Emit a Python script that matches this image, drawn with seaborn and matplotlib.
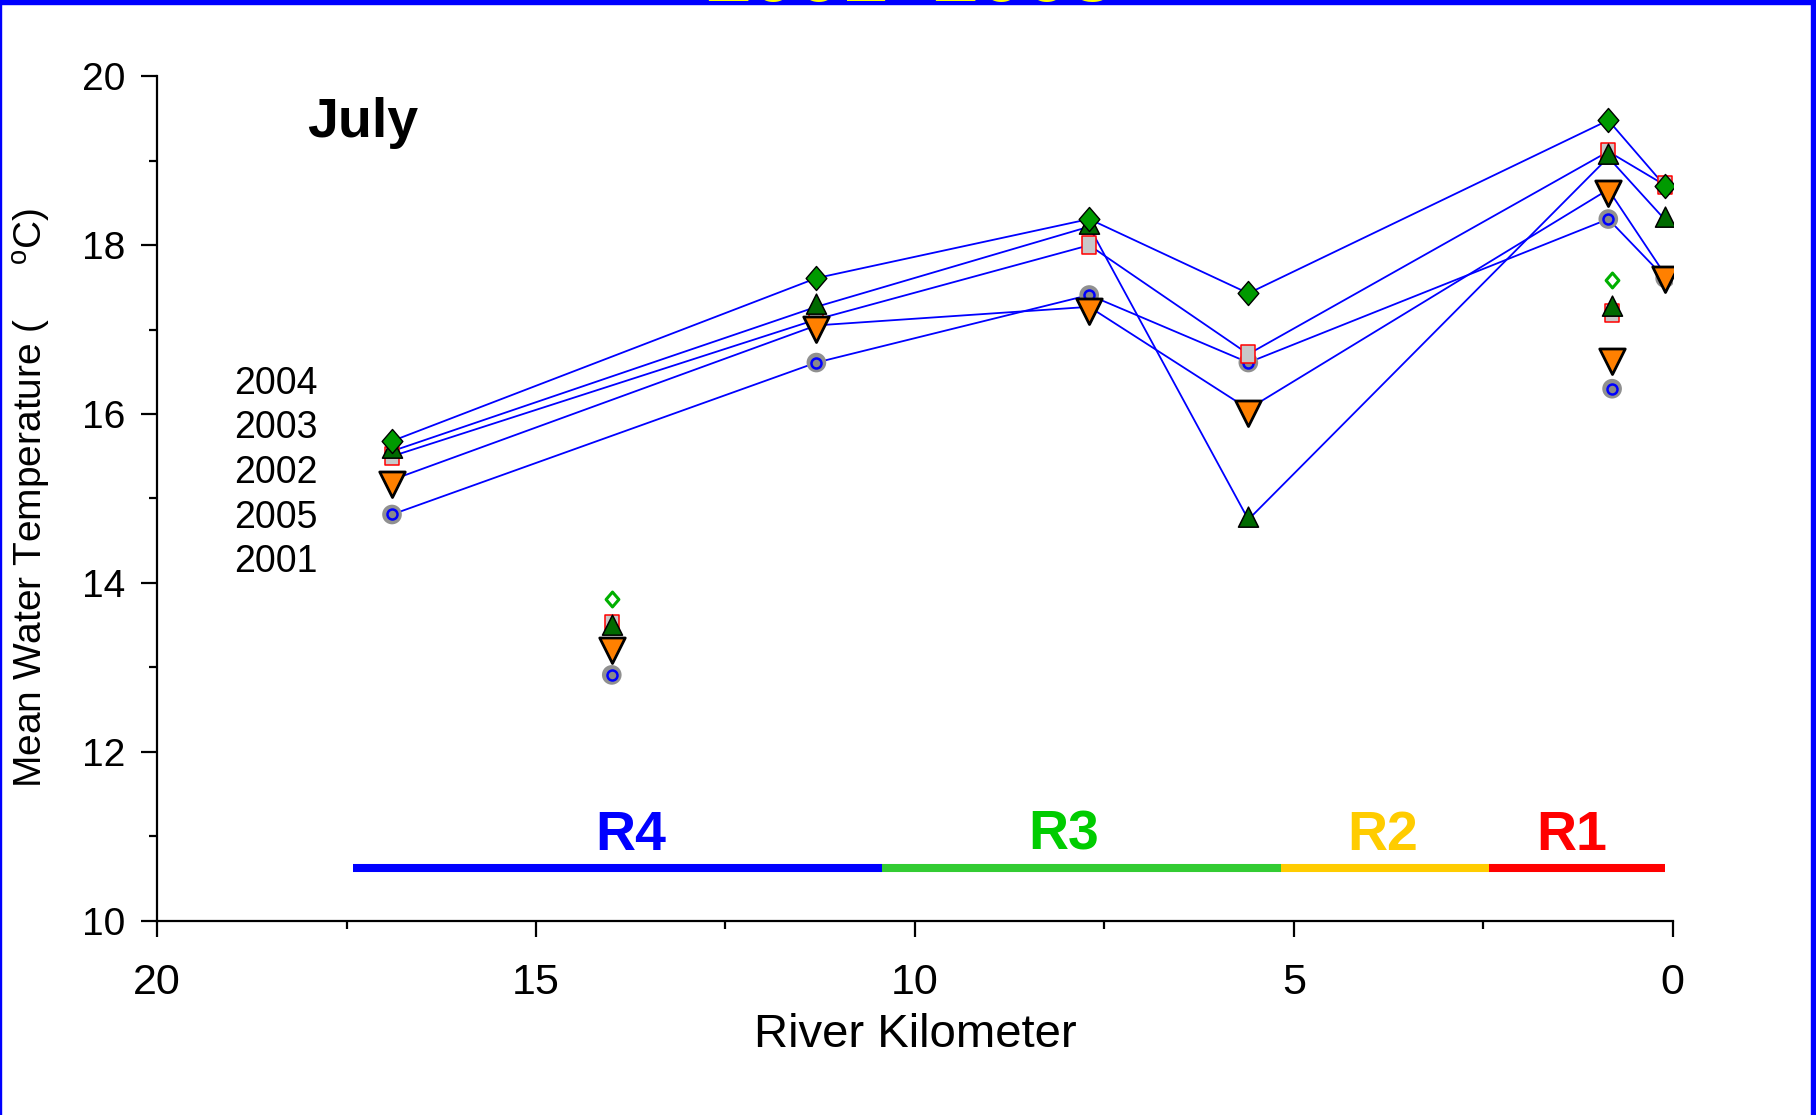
#!/usr/bin/env python3
# -*- coding: utf-8 -*-

import numpy as np
import pandas as pd
import matplotlib
matplotlib.use('Agg')
import matplotlib.pyplot as plt
from matplotlib.patches import Rectangle
from matplotlib.path import Path
from matplotlib.ticker import MultipleLocator
import seaborn as sns

# river km of the main-stem sites and of the two side sites
km_main = [16.9, 11.3, 7.7, 5.6, 0.85, 0.1]
km_side = [14.0, 0.8]

years = ['2004', '2003', '2002', '2005', '2001']

# July mean temperature (deg C) per year, main stem
t2004 = [15.68, 17.61, 18.31, 17.43, 19.48, 18.70]
t2003 = [15.56, 17.27, 18.22, 14.75, 19.04, 18.30]
t2002 = [15.50, 17.12, 18.00, 16.71, 19.11, 18.71]
t2005 = [15.22, 17.05, 17.27, 16.06, 18.66, 17.65]
t2001 = [14.81, 16.61, 17.41, 16.61, 18.31, 17.61]

# side sites (not joined by lines)
s2004 = [13.81, 17.59]
s2003 = [13.47, 17.24]
s2002 = [13.51, 17.20]
s2005 = [13.25, 16.68]
s2001 = [12.91, 16.30]

# river reaches
reach_names = ['R4', 'R3', 'R2', 'R1']
reach_start = [17.42, 10.44, 5.17, 2.43]
reach_end = [10.44, 5.17, 2.43, 0.10]
reach_label_x = [13.75, 8.04, 3.83, 1.33]
reach_colors = ['#0000ff', '#33cc33', '#ffcc00', '#ff0000']
reach_text_colors = ['#0000ff', '#00cc00', '#ffcc00', '#ff0000']

main_vals = {'2004': t2004, '2003': t2003, '2002': t2002, '2005': t2005, '2001': t2001}
side_vals = {'2004': s2004, '2003': s2003, '2002': s2002, '2005': s2005, '2001': s2001}

main_df = pd.concat([pd.DataFrame({'km': km_main, 'temp': main_vals[y], 'year': y}) for y in years])
side_df = pd.concat([pd.DataFrame({'km': km_side, 'temp': side_vals[y], 'year': y}) for y in years])

sns.set_style('ticks')
plt.rcParams['font.family'] = ['Liberation Sans', 'DejaVu Sans']
plt.rcParams['text.color'] = 'black'
plt.rcParams['axes.labelcolor'] = 'black'
plt.rcParams['xtick.color'] = 'black'
plt.rcParams['ytick.color'] = 'black'

fig = plt.figure(figsize=(18.16, 11.15), dpi=100)
ax = fig.add_axes([0.0865, 0.1744, 0.8346, 0.7571])

# blue lines joining the main-stem sites
sns.lineplot(data=main_df, x='km', y='temp', units='year', estimator=None,
             color='#0000ff', lw=1.3, zorder=2, ax=ax)


def closed(verts):
    return Path(verts + [verts[0]], closed=True)


# marker shapes, centred on their centroid
diamond = closed([(0, 1), (0.86, 0), (0, -1), (-0.86, 0)])
tri_up = closed([(-0.75, -0.5), (0.75, -0.5), (0, 1)])
tri_down = closed([(-0.75, 0.5), (0.75, 0.5), (0, -1)])
rect = closed([(-0.84, -1), (0.84, -1), (0.84, 1), (-0.84, 1)])

both = pd.concat([main_df, side_df])

# 2001: grey disc with blue ring
d = both[both['year'] == '2001']
sns.scatterplot(data=d, x='km', y='temp', marker='o', s=200, color='#909090',
                edgecolor='none', linewidth=0, zorder=3, ax=ax)
sns.scatterplot(data=d, x='km', y='temp', marker='o', s=52, color='#8a8a8a',
                edgecolor='#0000ff', linewidth=1.8, zorder=3.1, ax=ax)

# 2002: grey square, red edge
d = both[both['year'] == '2002']
sns.scatterplot(data=d, x='km', y='temp', marker=rect, s=165, color='#c8c8c8',
                edgecolor='#ff0000', linewidth=1.1, zorder=3.2, ax=ax)

# 2005: orange down triangle
d = both[both['year'] == '2005']
sns.scatterplot(data=d, x='km', y='temp', marker=tri_down, s=600, color='#ff8000',
                edgecolor='black', linewidth=2.0, zorder=3.3, ax=ax)

# 2003: dark green triangle
d = both[both['year'] == '2003']
sns.scatterplot(data=d, x='km', y='temp', marker=tri_up, s=370, color='#006a00',
                edgecolor='black', linewidth=1.1, zorder=3.4, ax=ax)

# 2004: green diamond (hollow and small at side sites)
d = main_df[main_df['year'] == '2004']
sns.scatterplot(data=d, x='km', y='temp', marker=diamond, s=300, color='#009a00',
                edgecolor='black', linewidth=1.0, zorder=3.5, ax=ax)
d = side_df[side_df['year'] == '2004']
sns.scatterplot(data=d, x='km', y='temp', marker=diamond, s=115, color='white',
                edgecolor='#00b000', linewidth=2.2, zorder=3.5, ax=ax)

# reach bars and labels
ax.hlines([10.62] * len(reach_names), reach_start, reach_end, colors=reach_colors,
          lw=5.8, capstyle='butt', zorder=2)
for name, x, c in zip(reach_names, reach_label_x, reach_text_colors):
    ax.text(x, 10.84, name, color=c, fontsize=40, fontweight='bold',
            ha='center', va='baseline')

# year labels (legend without symbols)
for i, y in enumerate(years):
    ax.text(18.98, 16.24 - i * 0.528, y, fontsize=27, ha='left', va='baseline')

ax.text(18.02, 19.28, 'July', fontsize=40, fontweight='bold', ha='left', va='baseline')

ax.set_xlim(20, 0)
ax.set_ylim(10, 20)
ax.xaxis.set_major_locator(MultipleLocator(5))
ax.xaxis.set_minor_locator(MultipleLocator(2.5))
ax.yaxis.set_major_locator(MultipleLocator(2))
ax.yaxis.set_minor_locator(MultipleLocator(1))
ax.tick_params(axis='both', which='major', direction='out', length=11.5, width=1.6,
               color='black')
ax.tick_params(axis='both', which='minor', direction='out', length=6, width=1.6,
               color='black')
ax.tick_params(axis='x', which='major', labelsize=31, pad=19, labelcolor='black')
ax.tick_params(axis='y', which='major', labelsize=28, pad=11.5, labelcolor='black')
sns.despine(ax=ax)
for sp in ['left', 'bottom']:
    ax.spines[sp].set_linewidth(1.6)
    ax.spines[sp].set_color('black')

ax.set_xlabel('River Kilometer', fontsize=34, color='black')
ax.set_ylabel('Mean Water Temperature (     $^{\\mathregular{o}}$C)', fontsize=28,
              color='black')
ax.xaxis.set_label_coords(0.5, -0.1095)
ax.yaxis.set_label_coords(-0.0686, 0.5)

# blue frame and the clipped yellow heading at the top edge
fig.patches.extend([
    Rectangle((0, 1 - 3.7 / 1115), 1, 3.7 / 1115, transform=fig.transFigure,
              color='#0000ff', zorder=1),
    Rectangle((0, 0), 1.3 / 1816, 1, transform=fig.transFigure, color='#0000ff', zorder=1),
    Rectangle((1810.6 / 1816, 0), 5.4 / 1816, 1, transform=fig.transFigure,
              color='#0000ff', zorder=1),
])
fig.text(910 / 1816, 1 - 0.5 / 1115, '2001\u20132005', ha='center', va='baseline',
         fontsize=59, fontweight='bold', color='#ffff00', zorder=5)

fig.savefig('out.png', dpi=100)
